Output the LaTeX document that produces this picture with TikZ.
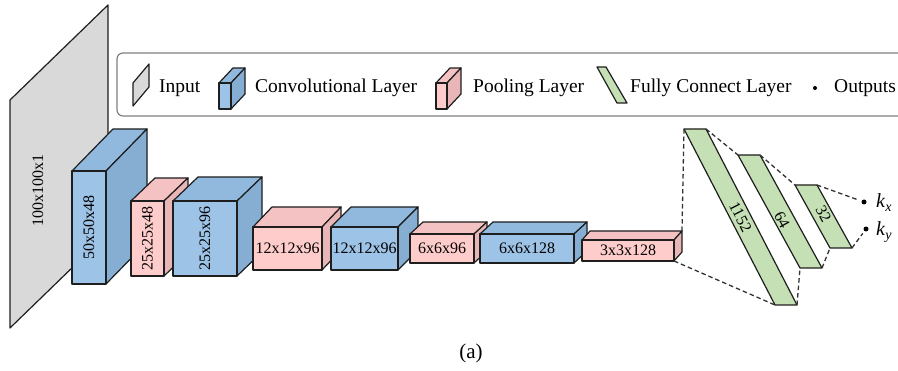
\documentclass[tikz,border=0pt]{standalone}
\usepackage{fontspec}
\setmainfont{Liberation Serif}
\usetikzlibrary{calc}
\definecolor{inF}{HTML}{D9D9D9}
\definecolor{convF}{HTML}{9DC3E6}
\definecolor{convT}{HTML}{91B9DD}
\definecolor{convS}{HTML}{86AED3}
\definecolor{poolF}{HTML}{FFCCCC}
\definecolor{poolT}{HTML}{F4C2C2}
\definecolor{poolS}{HTML}{E8B6B6}
\definecolor{fcF}{HTML}{C5E0B4}
\definecolor{edgeC}{HTML}{1E1E1E}
\definecolor{legC}{HTML}{808080}
\definecolor{dashC}{HTML}{333333}
\newcommand\cnnblock[8]{%
  \coordinate (#1-a) at (#3,#4);
  \coordinate (#1-b) at (#5,#4);
  \coordinate (#1-c) at (#5,#6);
  \coordinate (#1-d) at (#3,#6);
  \coordinate (#1-e) at ($(#1-b)+(#7,-#8)$);
  \coordinate (#1-f) at ($(#1-c)+(#7,-#8)$);
  \coordinate (#1-g) at ($(#1-a)+(#7,-#8)$);
  \coordinate (#1-m) at ($(#1-a)!0.5!(#1-c)$);
  \filldraw[edge,fill=#2T] (#1-a) -- (#1-g) -- (#1-e) -- (#1-b) -- cycle;
  \filldraw[edge,fill=#2S] (#1-b) -- (#1-e) -- (#1-f) -- (#1-c) -- cycle;
  \filldraw[edge,fill=#2F] (#1-a) rectangle (#1-c);
}
\newcommand\fclayer[5]{% name, x of top-left, y top, x of bottom-left, y bottom
  \coordinate (#1-tl) at (#2,#3);
  \coordinate (#1-tr) at ($(#2,#3)+(22,0)$);
  \coordinate (#1-bl) at (#4,#5);
  \coordinate (#1-br) at ($(#4,#5)+(22,0)$);
  \coordinate (#1-m) at ($(#1-tl)!0.5!(#1-br)$);
  \filldraw[edge,fill=fcF] (#1-tl) -- (#1-tr) -- (#1-br) -- (#1-bl) -- cycle;
}
\begin{document}
\begin{tikzpicture}[x=1pt,y=-1pt,
  edge/.style={draw=edgeC,line width=1.2pt,line join=round},
  lbl/.style={font=\fontsize{16}{16}\selectfont,inner sep=0pt},
  legtxt/.style={font=\fontsize{19.5}{20}\selectfont,inner sep=0pt,anchor=base west},
  conn/.style={draw=dashC,line width=1.3pt,dash pattern=on 4.5pt off 3pt},
  outdot/.style={circle,fill=black,inner sep=0pt,minimum size=5pt,outer sep=3pt},
  klbl/.style={font=\fontsize{20}{20}\selectfont,inner sep=0pt,anchor=base west}]
\clip (0,0) rectangle (898,371);
\useasboundingbox (0,0) rectangle (898,371);
% legend box
\draw[legC,line width=1.2pt,rounded corners=6pt] (117,53) rectangle (915,116);
% legend icons
\filldraw[edge,fill=inF] (133,83) -- (149,64) -- (149,87) -- (133,106) -- cycle;
\cnnblock{lc}{conv}{219}{83}{231}{109}{14}{15}
\cnnblock{lp}{pool}{436}{83}{447}{109}{14}{15}
\filldraw[edge,fill=fcF] (597,67) -- (606,67) -- (627,103) -- (617,103) -- cycle;
\node[outdot,minimum size=4pt] (ld) at (815,88) {};
\node[legtxt] (t1) at (159,93) {Input};
\node[legtxt] (t2) at (255,93) {Convolutional Layer};
\node[legtxt] (t3) at (473,93) {Pooling Layer};
\node[legtxt] (t4) at (630,93) {Fully Connect Layer};
\node[legtxt] (t5) at (834,93) {Outputs};
% input plane
\filldraw[edge,fill=inF] (10,100) -- (108,5) -- (108,233) -- (10,328) -- cycle;
\node[lbl,rotate=90] (inl) at (38,191) {100x100x1};
% blocks
\cnnblock{c1}{conv}{72}{171}{106}{284}{41}{42}
\node[lbl,rotate=90] (l1) at (c1-m) {50x50x48};
\cnnblock{p1}{pool}{131}{201}{164}{276}{24}{23}
\node[lbl,rotate=90] (l2) at (p1-m) {25x25x48};
\cnnblock{c2}{conv}{173}{201}{237}{276}{25}{24}
\node[lbl,rotate=90] (l3) at (c2-m) {25x25x96};
\cnnblock{p2}{pool}{253}{227}{322}{270}{19}{20}
\node[lbl] (l4) at (p2-m) {12x12x96};
\cnnblock{c3}{conv}{331}{227}{398}{270}{20}{20}
\node[lbl] (l5) at (c3-m) {12x12x96};
\cnnblock{p3}{pool}{410}{234}{474}{263}{13}{12}
\node[lbl] (l6) at (p3-m) {6x6x96};
\cnnblock{c4}{conv}{480}{234}{574}{263}{13}{12}
\node[lbl] (l7) at (c4-m) {6x6x128};
\cnnblock{p4}{pool}{582}{240}{674}{261}{8}{9}
\node[lbl] (l8) at (p4-m) {3x3x128};
% fully connected
\fclayer{f1}{684}{129}{775}{305}
\fclayer{f2}{738}{155}{800}{268}
\fclayer{f3}{795}{185}{830}{248}
\node[lbl,rotate=-63] (lf1) at (f1-m) {1152};
\node[lbl,rotate=-61] (lf2) at ($(f2-m)+(2,8)$) {64};
\node[lbl,rotate=-61] (lf3) at ($(f3-m)+(0,-3)$) {32};
% outputs
\node[outdot] (kx) at (864,202) {};
\node[outdot] (ky) at (866,229) {};
\node[klbl] (kxl) at (876,208) {\textit{k}\textsubscript{\textit{x}}};
\node[klbl] (kyl) at (876,236) {\textit{k}\textsubscript{\textit{y}}};
% connectors
\draw[conn] (p4-e) -- (f1-tl);
\draw[conn] (p4-c) -- (f1-bl);
\draw[conn] (f1-tr) -- (f2-tl);
\draw[conn] (f1-br) -- (f2-bl);
\draw[conn] (f2-tr) -- (f3-tl);
\draw[conn] (f2-br) -- (f3-bl);
\draw[conn] (f3-tr) -- (kx);
\draw[conn] (f3-br) -- (ky);
% caption
\node[font=\fontsize{21}{22}\selectfont,inner sep=0pt] (cap) at (471,353) {(a)};
\end{tikzpicture}
\end{document}
